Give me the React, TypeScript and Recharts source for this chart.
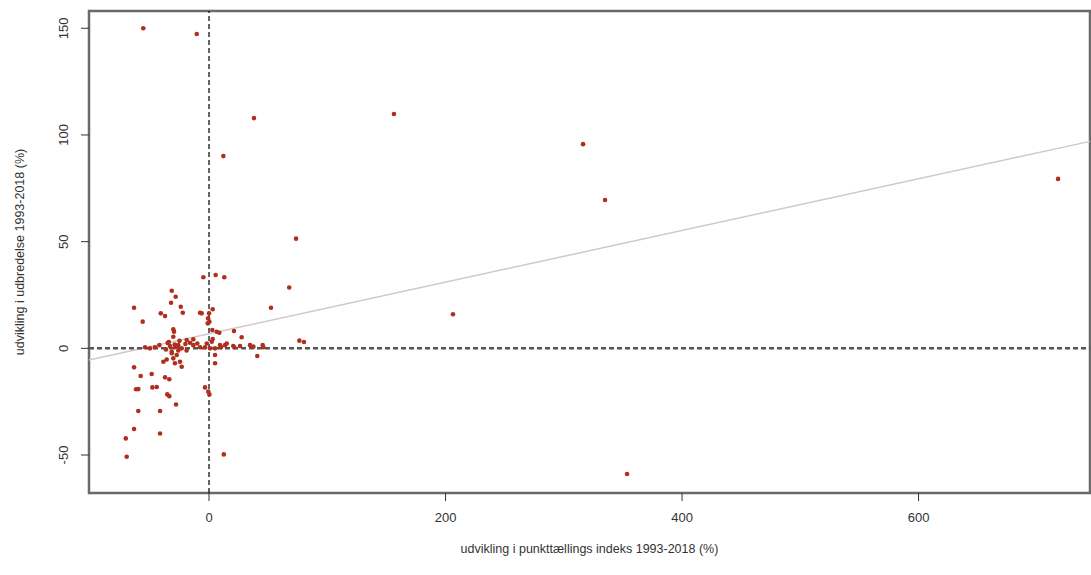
import { ScatterChart, Scatter, XAxis, YAxis, ReferenceLine, ReferenceArea } from "recharts";

// udvikling i punkttællings indeks (%), x
const indexChange = [
  -55.6, -10.4, 38, 156.4, 316.3, 12.1, 334.9, 718, 73.6, 67.8,
  206.3, 353.5, 12.5, -69.6, -70.4, 76.4, 80.3, 52.4, 21.1, 27.6,
  40.8, 37.5, 45.4, 45.9, 34.7, -4.8, 5.6, 12.9, 3.1, 0,
  -0.8, 0.3, -1.1, 2.8, 6.5, 8.7, 3.1, 15, 13.5, 21.4,
  10.1, 5.1, 0.8, 5.1, -6.2, -63.4, -56.1, -31.5, -28.2, -32.1,
  -23.9, -40.8, -37.2, -22.2, -7.6, -30.2, -29.6, -30.2, -54.1, -49.9,
  -45.7, -42, -36.4, -33, -31.5, -28.8, -26, -23.1, -18.9, -16.1,
  -13.3, -9.9, -7.6, -3.4, -13.3, -1.9, 2.3, 9.3, 20.5, 26.2,
  -38.6, -35.8, -31.5, -30.2, -27.3, -28.8, -23.1, -24.5, -63.4, -57.8,
  -48.5, -37.2, -33.6, -61.7, -59.8, -47.9, -44.2, -35.3, -33.6, -27.9,
  -3.4, -0.6, 0.3, -59.8, -41.4, -63.4, -41.4, 5.1, -20, -34,
  -26, -35, -19, -25, -29,
];

// udvikling i udbredelse (%), y
const rangeChange = [
  150, 147.3, 107.9, 109.8, 95.7, 90.1, 69.5, 79.4, 51.4, 28.5,
  16, -58.9, -49.7, -50.8, -42.2, 3.6, 3, 19, 8.1, 5.2,
  -3.6, 0.8, 1.5, 0.5, 1.5, 33.3, 34.4, 33.3, 18.3, 16.4,
  14.1, 12.5, 11.7, 8.6, 7.8, 7.3, 4.4, 2.3, 1.5, 0.5,
  0.5, 0, 0, -3.1, 16.4, 19, 12.5, 27, 24.2, 21.4,
  19.5, 16.4, 15.1, 16.7, 16.7, 8.9, 7.8, 5.4, 0.5, 0,
  0.5, 1.5, -0.5, 1.1, -1.6, 0.5, 1.5, 0, 3.9, 2.6,
  4.2, 2.3, 0.5, 0.5, 1.5, 2.3, 3.1, 1.5, 1.1, 1.1,
  -6.3, -5.2, -2.3, -4.7, -3.1, -7, -8.6, -6.3, -8.9, -13,
  -12, -13.6, -14.5, -19.2, -19.1, -18.3, -18.1, -21.6, -22.4, -26.3,
  -18.3, -20.3, -21.6, -29.4, -29.4, -37.8, -39.9, -7, 2, 3,
  -1, 2.5, -1, 3.5, 1.8,
];

const xTicks = [0, 200, 400, 600];
const yTicks = [-50, 0, 50, 100, 150];
const xDomain = [-101.5, 745];
const yDomain = [-67.8, 158.1];
// regression line end points
const fitX = [-101.5, 745];
const fitY = [-5.5, 97];

const points = indexChange.map((x, i) => ({ x, y: rangeChange[i] }));

const FONT = "'Liberation Sans', Arial, sans-serif";

const YTick = (props: any) => {
  const { x, y, payload } = props;
  const tx = x - 11;
  return (
    <text x={tx} y={y} transform={`rotate(-90 ${tx} ${y})`} textAnchor="middle"
      fontSize={13} fill="#333" fontFamily={FONT}>
      {payload.value}
    </text>
  );
};

const Dot = (props: any) => <circle cx={props.cx} cy={props.cy} r={2.3} fill="#b02e1c" />;

export default function App() {
  return (
    <div style={{ position: "absolute", left: 0, top: 0, background: "#fff" }}>
      <ScatterChart width={1091} height={575} margin={{ top: 11, right: 1, bottom: 0, left: 0 }}>
        <XAxis type="number" dataKey="x" domain={xDomain} ticks={xTicks} allowDataOverflow
          height={82} axisLine={false} tickSize={8} tickMargin={12}
          tickLine={{ stroke: "#333" }}
          tick={{ fontSize: 13, fill: "#333", fontFamily: FONT }}
          label={{ value: "udvikling i punkttællings indeks 1993-2018 (%)", position: "insideBottom",
            offset: 22, fontSize: 12.5, fill: "#333", fontFamily: FONT }} />
        <YAxis type="number" dataKey="y" domain={yDomain} ticks={yTicks} allowDataOverflow
          width={89} axisLine={false} tickSize={8} tickLine={{ stroke: "#333" }} tick={<YTick />}
          label={{ value: "udvikling i udbredelse 1993-2018 (%)", angle: -90, position: "center",
            dx: -25, fontSize: 12.5, fill: "#333", fontFamily: FONT }} />
        <ReferenceArea x1={xDomain[0]} x2={xDomain[1]} y1={yDomain[0]} y2={yDomain[1]}
          fill="none" stroke="#6a6a6a" strokeWidth={2.5} ifOverflow="visible" />
        <ReferenceLine segment={[{ x: fitX[0], y: fitY[0] }, { x: fitX[1], y: fitY[1] }]}
          stroke="#d2c9c6" strokeWidth={1.5} />
        <ReferenceLine x={0} stroke="#111" strokeWidth={1.3} strokeDasharray="5 3" />
        <ReferenceLine y={0} stroke="#555" strokeWidth={2.5} strokeDasharray="5 3" />
        <Scatter data={points} shape={<Dot />} isAnimationActive={false} />
      </ScatterChart>
    </div>
  );
}
